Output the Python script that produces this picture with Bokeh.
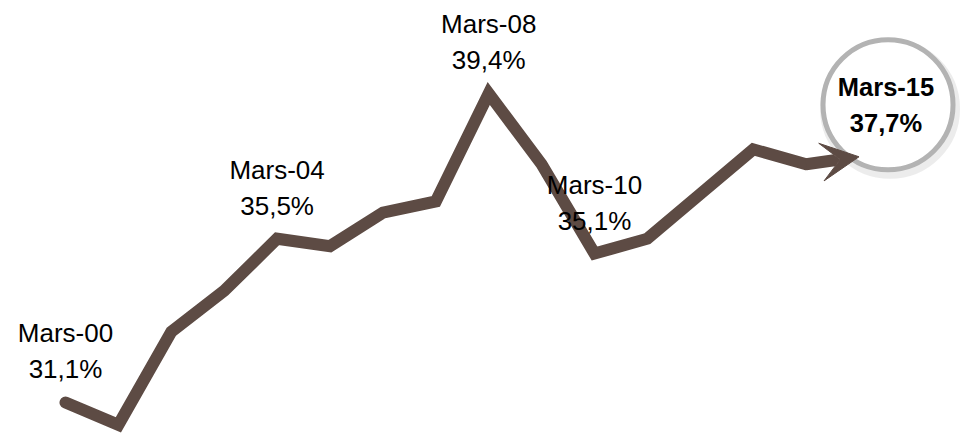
from bokeh.plotting import figure
from bokeh.models import Range1d, Arrow, VeeHead, ColumnDataSource
from bokeh.embed import file_html
from bokeh.resources import INLINE
from bokeh.core.properties import value

# ---- data ----
years = [2000, 2001, 2002, 2003, 2004, 2005, 2006, 2007,
         2008, 2009, 2010, 2011, 2012, 2013, 2014, 2015]
rates = [31.1, 30.5, 33.0, 34.1, 35.5, 35.3, 36.2, 36.5,
         39.4, 37.5, 35.1, 35.5, 36.7, 37.9, 37.5, 37.7]
label_years = [2000, 2004, 2008, 2010]
highlight_year = 2015

LINE_COLOR = "#5D4B44"
W, H = 963, 439
x0, x1 = 1998.7713, 2016.975
y0, y1 = 30.106, 41.898
px_x = W / (x1 - x0)
px_y = H / (y1 - y0)

p = figure(width=W, height=H, output_backend="svg", toolbar_location=None,
           x_range=Range1d(x0, x1), y_range=Range1d(y0, y1),
           min_border=0, outline_line_color=None, background_fill_color="white",
           border_fill_color="white")
p.axis.visible = False
p.grid.visible = False

# highlight circle (behind)
iy = years.index(highlight_year)
cx = years[iy] + 29 / px_x
cy = rates[iy] + 52 / px_y
p.circle(x=[cx + 2 / px_x], y=[cy - 4 / px_y], radius=66, radius_units="screen",
         fill_color=None, line_color="#c8c8c8", line_alpha=0.35, line_width=8)
p.circle(x=[cx], y=[cy], radius=65, radius_units="screen",
         fill_color="white", line_color="#b3b3b3", line_width=5)

# main line up to the second-to-last point
p.line(years[:-1], rates[:-1], line_color=LINE_COLOR, line_width=12,
       line_join="miter", line_cap="round")

# last segment as arrow
p.add_layout(Arrow(x_start=years[-2], y_start=rates[-2], x_end=years[-1], y_end=rates[-1],
                   line_color=LINE_COLOR, line_width=12,
                   end=VeeHead(size=38, fill_color=LINE_COLOR, line_color=LINE_COLOR, line_width=1)))

def fmt(v):
    return f"{v:.1f}".replace(".", ",") + "%"

lx = [y for y in label_years]
ly = [rates[years.index(y)] for y in label_years]
src = ColumnDataSource(dict(x=lx, y=ly,
                            month=[f"Mars-{str(y)[2:]}" for y in label_years],
                            val=[fmt(v) for v in ly]))
common = dict(text_font=value("Liberation Sans"), text_font_size="26px",
              text_align="center", text_baseline="alphabetic", text_color="black")
p.text(x="x", y="y", text="month", source=src, y_offset=-69, **common)
p.text(x="x", y="y", text="val", source=src, y_offset=-33, **common)

hsrc = ColumnDataSource(dict(x=[years[iy]], y=[rates[iy]],
                             month=[f"Mars-{str(highlight_year)[2:]}"],
                             val=[fmt(rates[iy])]))
bold = dict(text_font=value("Liberation Sans"), text_font_size="25.5px",
            text_font_style="bold", text_align="center",
            text_baseline="alphabetic", text_color="black")
p.text(x="x", y="y", text="month", source=hsrc, x_offset=27, y_offset=-70, **bold)
p.text(x="x", y="y", text="val", source=hsrc, x_offset=27, y_offset=-34, **bold)

open("out.html", "w").write(file_html(p, INLINE))
